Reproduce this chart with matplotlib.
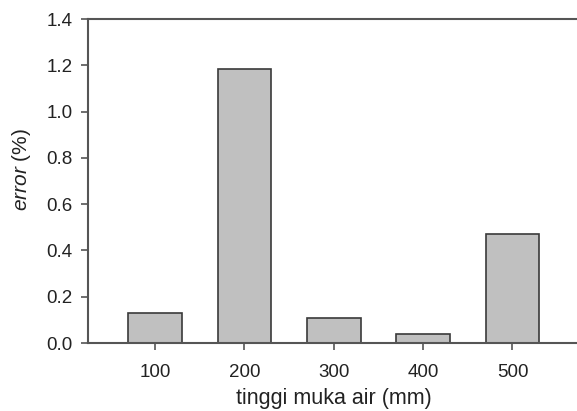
import matplotlib
matplotlib.use("Agg")
import matplotlib.pyplot as plt

# data
heights = ["100", "200", "300", "400", "500"]
error_pct = [0.131, 1.184, 0.108, 0.039, 0.470]
y_ticks = [0.0, 0.2, 0.4, 0.6, 0.8, 1.0, 1.2, 1.4]

plt.rcParams["font.family"] = ["Liberation Sans", "DejaVu Sans"]
plt.rcParams["mathtext.fontset"] = "custom"
plt.rcParams["mathtext.it"] = "Liberation Sans:italic"
plt.rcParams["mathtext.rm"] = "Liberation Sans"

W, H = 577, 411
fig = plt.figure(figsize=(W / 100, H / 100), dpi=100)
ax = fig.add_axes([88 / W, 68 / H, 491.5 / W, 324 / H])

x = list(range(len(heights)))
ax.bar(x, error_pct, width=0.6, color="#c0c0c0", edgecolor="#3a3a3a", linewidth=1.2)

ax.set_xlim(-0.75, len(heights) - 0.25)
ax.set_ylim(0, 1.4)
ax.set_xticks(x)
ax.set_xticklabels(heights)
ax.set_yticks(y_ticks)
ax.set_yticklabels(["%0.1f" % v for v in y_ticks])

for side in ["left", "top", "bottom"]:
    ax.spines[side].set_color("#555555")
    ax.spines[side].set_linewidth(1.5)
ax.spines["right"].set_visible(False)

ax.tick_params(axis="both", direction="out", length=5, width=1.2, color="#555555",
               labelsize=13.5, labelcolor="#222222")
ax.tick_params(axis="y", pad=6)
ax.tick_params(axis="x", pad=10)

ax.set_xlabel("tinggi muka air (mm)", fontsize=15.5, color="#222222", va="top")
ax.xaxis.set_label_coords(0.5, -0.14)
ax.set_ylabel(r"$\mathit{error}$ (%)", fontsize=15, color="#222222")
ax.yaxis.set_label_coords(-0.112, 0.537)

fig.savefig("out.png", dpi=100)
